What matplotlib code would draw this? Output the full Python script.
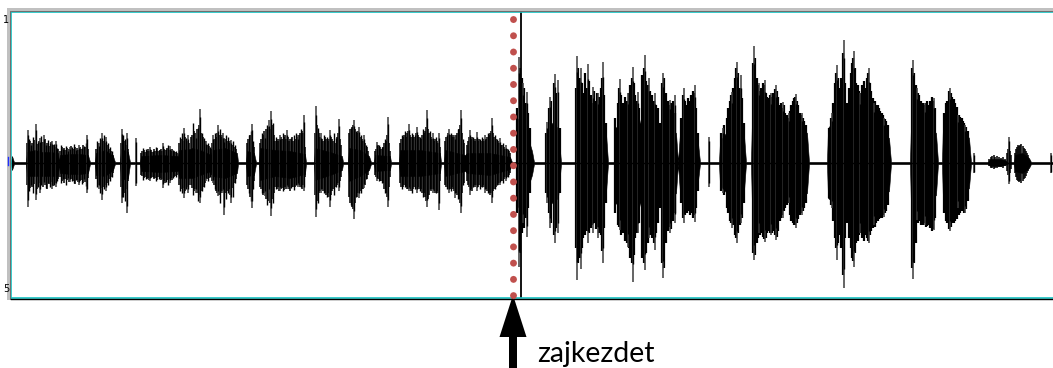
import numpy as np
import matplotlib
matplotlib.use("Agg")
import matplotlib.pyplot as plt
from matplotlib.patches import Rectangle

# waveform body envelope: column position, height above / depth below the baseline (px)
env_x = [11, 12, 14, 26, 27, 35, 42, 50, 58, 59, 60, 70, 80, 88, 90, 95, 96, 105, 113, 115,
         120, 121, 128, 130, 140, 141, 160, 178, 179, 190, 192, 200, 211, 212, 225, 237, 238, 246,
         247, 254, 256, 259, 260, 275, 290, 305, 306, 314, 315, 330, 342, 343, 348, 349, 360, 369,
         371, 374, 375, 390, 391, 399, 400, 420, 440, 441, 444, 445, 465, 467, 490, 510, 512, 516,
         517, 524, 532, 534, 545, 546, 552, 558, 561, 575, 576, 590, 606, 608, 614, 615, 630, 640,
         641, 660, 661, 676, 678, 680, 690, 698, 700, 719, 720, 735, 744, 746, 751, 752, 770, 795,
         807, 809, 827, 828, 840, 847, 848, 865, 880, 889, 891, 910, 911, 925, 936, 938, 942, 943,
         955, 969, 971, 988, 990, 1000, 1005, 1007, 1014, 1015, 1022, 1029, 1031, 1053]
env_top = [1, 7, 1, 1, 11, 13, 11, 11, 10, 1, 8, 9, 9, 8, 1, 1, 10, 13, 7, 1,
           1, 14, 11, 1, 1, 7, 8, 7, 13, 14, 15, 13, 8, 13, 15, 10, 1, 1,
           12, 10, 1, 1, 15, 13, 12, 9, 1, 1, 15, 11, 7, 1, 1, 15, 13, 7,
           1, 1, 8, 7, 1, 1, 13, 13, 10, 1, 1, 13, 8, 10, 10, 6, 1, 1,
           45, 38, 12, 1, 1, 25, 40, 35, 1, 1, 50, 50, 30, 1, 1, 35, 45, 40,
           45, 30, 42, 30, 1, 30, 42, 20, 1, 1, 22, 42, 28, 1, 1, 45, 42, 42,
           30, 1, 1, 35, 50, 40, 45, 50, 32, 25, 1, 1, 40, 40, 30, 1, 1, 40,
           45, 25, 1, 1, 4, 4, 3, 1, 1, 8, 10, 5, 1, 1]
env_bot = [1, 7, 1, 1, 13, 13, 13, 13, 13, 1, 10, 11, 11, 10, 1, 1, 12, 13, 7, 1,
           1, 17, 15, 1, 1, 8, 9, 8, 15, 15, 15, 12, 8, 13, 15, 10, 1, 1,
           13, 12, 1, 1, 17, 13, 15, 11, 1, 1, 17, 12, 7, 1, 1, 18, 13, 7,
           1, 1, 8, 7, 1, 1, 13, 13, 10, 1, 1, 13, 8, 10, 12, 6, 1, 1,
           45, 36, 12, 1, 1, 25, 40, 35, 1, 1, 50, 45, 30, 1, 1, 40, 48, 40,
           45, 30, 45, 30, 1, 30, 35, 18, 1, 1, 22, 40, 28, 1, 1, 45, 42, 38,
           30, 1, 1, 35, 45, 40, 45, 45, 36, 28, 1, 1, 45, 42, 32, 1, 1, 40,
           40, 25, 1, 1, 3, 3, 2, 1, 1, 8, 10, 5, 1, 1]

# single tall strokes sticking out of the bursts
spike_x = [28, 36, 44, 52, 40, 56, 87, 79, 70, 102, 106, 99, 122, 127, 136, 163, 150, 170,
           184, 188, 200, 196, 206, 213, 218, 223, 224, 231, 252, 265, 269, 271, 280, 287, 298,
           304, 316, 321, 330, 339, 354, 359, 364, 377, 388, 409, 417, 427, 433, 439, 449, 455,
           461, 470, 477, 485, 492, 500, 506, 519, 523, 527, 547, 550, 555, 558, 577, 581, 588,
           593, 598, 603, 620, 628, 633, 638, 645, 649, 655, 663, 670, 675, 684, 695, 709, 723,
           732, 737, 741, 754, 759, 765, 771, 776, 783, 789, 796, 802, 832, 837, 844, 854, 860,
           869, 874, 884, 913, 917, 925, 934, 950, 958, 965, 974, 1009, 1051]
spike_top = [33, 39, 28, 22, 25, 22, 28, 18, 16, 30, 26, 20, 34, 30, 25, 20, 16, 17,
             35, 28, 54, 30, 22, 28, 38, 30, 25, 23, 39, 30, 43, 52, 28, 33, 28,
             48, 57, 30, 33, 44, 43, 36, 28, 21, 46, 39, 36, 53, 30, 30, 34, 28,
             53, 33, 31, 28, 45, 25, 18, 106, 80, 71, 41, 66, 89, 83, 107, 95, 99,
             76, 70, 101, 84, 70, 96, 71, 108, 85, 70, 90, 63, 68, 75, 78, 26, 35,
             71, 101, 88, 117, 80, 83, 70, 78, 61, 50, 69, 50, 50, 98, 123, 112, 70,
             95, 60, 45, 103, 75, 60, 65, 75, 48, 38, 10, 26, 10]
spike_bot = [44, 37, 22, 26, 30, 24, 30, 22, 19, 37, 28, 26, 40, 50, 23, 25, 18, 20,
             35, 30, 40, 30, 18, 20, 33, 30, 52, 40, 45, 33, 30, 53, 28, 26, 24,
             28, 54, 30, 44, 28, 56, 35, 25, 18, 44, 28, 30, 44, 30, 47, 30, 35,
             50, 32, 28, 30, 40, 22, 18, 104, 60, 74, 40, 65, 80, 70, 117, 106, 80,
             70, 75, 100, 67, 84, 119, 70, 107, 75, 87, 115, 70, 60, 60, 59, 24, 30,
             65, 80, 60, 97, 70, 79, 72, 77, 55, 40, 65, 52, 45, 97, 125, 104, 70,
             80, 62, 54, 116, 57, 62, 67, 68, 45, 50, 10, 21, 10]

# medium strokes that make up the ragged edge of the left-hand bursts
stroke_x = [29, 31, 33, 38, 41, 46, 48, 50, 54, 57,
            61, 63, 66, 68, 72, 74, 76, 82, 84, 86,
            97, 100, 104, 108, 110, 112, 123, 125,
            143, 146, 153, 156, 159, 166, 168, 173, 176,
            180, 182, 186, 193, 198, 202, 204, 208, 210,
            215, 220, 226, 228, 233, 235, 249, 251, 253,
            262, 267, 273, 276, 283, 291, 294, 296, 301,
            318, 324, 327, 334, 336, 351, 356, 361, 366, 379, 382, 385,
            402, 405, 412, 415, 420, 423, 430, 436, 447, 451, 458, 463,
            473, 480, 482, 488, 495, 497, 503, 508]
stroke_top = [24, 18, 26, 21, 27, 18, 23, 20, 19, 15,
              18, 14, 17, 12, 16, 19, 13, 15, 17, 20,
              22, 25, 28, 20, 16, 12, 28, 24,
              15, 14, 12, 16, 13, 14, 18, 13, 12,
              26, 30, 25, 40, 35, 30, 25, 20, 16,
              30, 34, 28, 26, 22, 18, 28, 32, 22,
              30, 38, 40, 26, 30, 25, 28, 30, 34,
              35, 28, 26, 30, 25, 35, 32, 28, 18, 18, 16, 24,
              28, 32, 30, 28, 26, 34, 32, 26, 28, 30, 34, 24,
              26, 24, 26, 30, 28, 24, 20, 14]
stroke_bot = [28, 22, 30, 24, 22, 25, 20, 24, 22, 18,
              20, 16, 22, 15, 18, 20, 17, 21, 16, 23,
              24, 30, 26, 22, 18, 14, 34, 38,
              17, 16, 14, 18, 16, 19, 22, 15, 14,
              28, 30, 26, 32, 38, 28, 24, 18, 14,
              26, 40, 36, 30, 34, 20, 30, 38, 26,
              30, 42, 40, 26, 28, 25, 27, 22, 24,
              40, 30, 34, 32, 24, 42, 34, 30, 16, 18, 20, 30,
              26, 24, 30, 26, 28, 34, 26, 30, 26, 28, 36, 22,
              24, 26, 24, 30, 26, 22, 20, 14]

# in-between columns of the quieter bursts (before the onset and at the very end)
fine_x = [27, 30, 32, 34, 37, 39, 43, 45, 47, 49, 51, 53, 55, 58,
          60, 62, 64, 65, 67, 69, 71, 73, 75, 77, 78, 80, 81, 83, 85, 88,
          96, 98, 101, 103, 105, 107, 109, 111, 113, 121, 124, 126, 128,
          141, 142, 144, 145, 147, 148, 149, 151, 152, 154, 155, 157, 158, 160, 161, 162,
          164, 165, 167, 169, 171, 172, 174, 175, 177,
          179, 181, 183, 185, 187, 189,
          191, 192, 194, 195, 197, 199, 201, 203, 205, 207, 209, 211,
          212, 214, 216, 217, 219, 221, 222, 225, 227, 229, 230, 232, 234, 236,
          247, 248, 250, 254,
          260, 261, 263, 264, 266, 268, 270, 272, 274, 275, 277, 278, 279, 281, 282, 284,
          285, 286, 288, 289, 290, 292, 293, 295, 297, 299, 300, 302, 303, 305,
          315, 317, 319, 320, 322, 323, 325, 326, 328, 329, 331, 332, 333, 335, 337, 338, 340, 341,
          349, 350, 352, 353, 355, 357, 358, 360, 362, 363, 365, 367, 368,
          375, 376, 378, 380, 381, 383, 384, 386, 387, 389, 390,
          400, 401, 403, 404, 406, 407, 408, 410, 411, 413, 414, 416, 418, 419, 421, 422, 424,
          425, 426, 428, 429, 431, 432, 434, 435, 437, 438, 440,
          445, 446, 448, 450, 452, 453, 454, 456, 457, 459, 460, 462, 464,
          467, 468, 469, 471, 472, 474, 475, 476, 478, 479, 481, 483, 484, 486, 487, 489, 490,
          491, 493, 494, 496, 498, 499, 501, 502, 504, 505, 507, 509, 510,
          989, 991, 992, 994, 995, 997, 999, 1001, 1003, 1005, 1007, 1008, 1010, 1011,
          1015, 1016, 1017, 1018, 1019, 1020, 1021, 1023, 1024, 1025, 1026, 1027, 1028]
fine_top = [20, 22, 20, 23, 19, 22, 21, 24, 20, 17, 21, 18, 16, 14,
            12, 16, 15, 13, 15, 14, 17, 14, 16, 15, 13, 16, 14, 18, 16, 14,
            14, 20, 23, 22, 20, 18, 14, 12, 8, 20, 22, 18, 14,
            10, 12, 13, 11, 12, 14, 12, 13, 11, 14, 12, 15, 12, 13, 14, 12,
            14, 13, 15, 13, 12, 14, 12, 11, 10,
            20, 24, 22, 26, 22, 20,
            26, 28, 32, 30, 34, 38, 30, 26, 22, 18, 17, 14,
            20, 24, 26, 30, 28, 26, 28, 24, 22, 20, 22, 18, 16, 14,
            20, 24, 28, 16,
            20, 24, 28, 32, 34, 36, 34, 38, 28, 22, 24, 22, 24, 26, 24, 26,
            28, 24, 26, 22, 24, 26, 22, 24, 26, 28, 30, 32, 30, 16,
            30, 38, 30, 26, 24, 22, 26, 24, 22, 24, 26, 24, 22, 20, 26, 30, 24, 18,
            30, 34, 36, 38, 34, 30, 32, 26, 24, 22, 20, 16, 12,
            12, 14, 18, 16, 14, 16, 20, 22, 28, 20, 12,
            20, 24, 26, 28, 26, 30, 32, 28, 26, 28, 26, 30, 28, 26, 24, 28, 30,
            32, 36, 34, 30, 26, 24, 22, 24, 22, 20, 16,
            22, 26, 30, 28, 26, 28, 26, 28, 30, 34, 38, 30, 20,
            18, 22, 26, 24, 26, 24, 22, 24, 22, 24, 22, 24, 22, 24, 26, 28, 30,
            32, 30, 26, 24, 22, 20, 18, 18, 16, 14, 14, 12, 10,
            4, 6, 7, 8, 6, 7, 6, 5, 6, 4, 10, 14, 12, 8,
            10, 14, 16, 18, 17, 18, 19, 17, 15, 14, 12, 10, 8]
fine_bot = [22, 25, 24, 21, 26, 20, 24, 22, 26, 21, 19, 23, 20, 16,
            14, 18, 20, 16, 17, 19, 16, 18, 21, 17, 19, 18, 17, 20, 19, 15,
            16, 22, 25, 24, 22, 20, 16, 14, 10, 24, 30, 26, 18,
            12, 13, 15, 14, 16, 15, 17, 15, 14, 16, 15, 17, 14, 15, 17, 16,
            18, 20, 17, 16, 15, 17, 14, 13, 12,
            22, 26, 25, 28, 24, 22,
            22, 25, 28, 26, 30, 32, 28, 24, 20, 16, 15, 12,
            18, 22, 28, 30, 32, 30, 28, 30, 28, 26, 32, 25, 20, 16,
            22, 26, 34, 18,
            24, 26, 32, 30, 36, 38, 40, 36, 30, 24, 26, 24, 28, 26, 25, 27,
            24, 26, 24, 26, 28, 24, 24, 24, 22, 22, 24, 26, 22, 14,
            32, 38, 30, 28, 26, 28, 30, 32, 30, 34, 32, 28, 26, 24, 22, 20, 18, 14,
            34, 40, 44, 46, 40, 34, 30, 28, 26, 26, 22, 16, 12,
            12, 14, 16, 18, 18, 20, 26, 30, 34, 24, 14,
            20, 24, 24, 22, 24, 26, 26, 26, 28, 26, 24, 26, 24, 26, 26, 30, 30,
            34, 38, 36, 32, 28, 26, 28, 30, 28, 30, 18,
            22, 24, 26, 26, 24, 26, 28, 30, 32, 36, 40, 30, 20,
            18, 22, 24, 26, 28, 22, 24, 22, 24, 22, 24, 22, 24, 26, 28, 30, 32,
            30, 28, 26, 24, 22, 20, 18, 18, 16, 14, 14, 12, 10,
            3, 5, 5, 6, 5, 5, 4, 4, 5, 3, 8, 12, 10, 6,
            10, 14, 17, 18, 19, 18, 20, 18, 16, 15, 13, 10, 8]

# dense columns inside the loud bursts after the onset
dense_x = [517, 520, 522, 524, 526, 528, 530,
           546, 549, 551, 554, 556, 560,
           576, 578, 580, 582, 583, 585, 587, 589, 591, 592, 594, 596, 597, 599, 601, 602, 604, 606,
           615, 618, 619, 621, 623, 625, 627, 629, 630, 632, 634, 635, 637, 639,
           642, 644, 646, 648, 650, 652, 654, 656, 658, 660,
           662, 664, 666, 668, 669, 671, 673, 675,
           681, 683, 685, 687, 688, 690, 691, 693, 694, 696, 698,
           721, 724, 727, 728, 730, 731, 733, 735, 736, 738, 740, 742, 744,
           753, 755, 757, 758, 760, 761, 763, 764, 766, 767, 769, 770, 772, 773, 775, 777, 778,
           780, 781, 782, 784, 785, 787, 788, 790, 791, 793, 794, 795, 797, 798, 800, 801, 803,
           804, 806,
           829, 831, 833, 835, 836, 838, 839, 841, 843, 845, 847,
           849, 851, 852, 853, 855, 856, 858, 859, 861, 862, 864, 865, 867, 868, 870, 871, 873,
           875, 876, 878, 879, 880, 882, 883, 885, 886, 888,
           912, 914, 916, 918, 919, 921, 923, 924, 926, 927, 929, 930, 932, 933, 935,
           944, 946, 947, 949, 951, 952, 954, 955, 957, 959, 960, 962, 963, 964, 966, 968]
dense_top = [55, 95, 85, 75, 60, 50, 35,
             30, 55, 62, 80, 70, 35,
             75, 95, 85, 80, 70, 90, 75, 82, 68, 60, 72, 62, 70, 66, 75, 85, 68, 40,
             45, 60, 75, 68, 60, 66, 62, 70, 78, 85, 80, 68, 62, 55,
             88, 95, 82, 78, 72, 68, 62, 58, 55, 40,
             80, 85, 70, 62, 58, 60, 62, 50,
             45, 68, 62, 58, 65, 62, 68, 72, 70, 55, 30,
             30, 38, 45, 55, 62, 68, 75, 85, 95, 90, 75, 65, 40,
             100, 105, 85, 78, 72, 75, 80, 78, 70, 66, 65, 68, 66, 70, 74, 72, 66,
             58, 60, 55, 58, 50, 48, 45, 52, 58, 62, 65, 66, 62, 58, 50, 48, 45,
             42, 38,
             35, 45, 60, 80, 90, 85, 75, 85, 110, 80, 60,
             75, 90, 100, 105, 95, 80, 78, 72, 70, 78, 82, 75, 85, 90, 80, 72, 65,
             62, 58, 58, 55, 52, 50, 48, 44, 42, 38,
             95, 90, 78, 70, 68, 62, 60, 58, 60, 62, 58, 62, 66, 62, 55,
             50, 60, 62, 72, 70, 66, 64, 60, 56, 48, 46, 45, 42, 40, 36, 32]
dense_bot = [50, 90, 70, 65, 55, 45, 30,
             30, 50, 60, 72, 65, 30,
             85, 100, 95, 85, 75, 72, 68, 70, 65, 62, 60, 66, 64, 70, 72, 88, 65, 40,
             50, 62, 64, 72, 70, 78, 80, 85, 95, 100, 92, 75, 70, 60,
             95, 100, 90, 80, 72, 75, 80, 70, 60, 45,
             100, 105, 80, 68, 64, 66, 58, 50,
             40, 55, 52, 50, 48, 52, 50, 55, 52, 45, 28,
             28, 32, 45, 50, 58, 60, 62, 72, 75, 70, 62, 55, 40,
             90, 92, 80, 75, 72, 70, 74, 76, 75, 70, 68, 70, 70, 68, 72, 74, 68,
             58, 55, 52, 48, 45, 42, 40, 52, 58, 60, 62, 62, 60, 56, 52, 50, 48,
             45, 40,
             35, 42, 58, 75, 85, 80, 72, 85, 112, 75, 60,
             75, 85, 95, 98, 90, 80, 78, 72, 70, 75, 78, 72, 75, 78, 72, 68, 65,
             64, 60, 58, 56, 55, 55, 52, 50, 48, 42,
             105, 100, 80, 60, 58, 62, 62, 60, 64, 63, 62, 65, 68, 66, 55,
             50, 58, 60, 66, 64, 60, 60, 58, 56, 52, 50, 48, 48, 50, 46, 38]

onset_x = 513      # dotted marker and arrow
cursor_x = 521     # thin black cursor line

W, H = 1053, 368
fig = plt.figure(figsize=(W / 100, H / 100), dpi=100)

teal = "#14c2c2"

# waveform panel (pixel-based layout: x 11..1053, y 12..298, baseline at y 163)
ax = fig.add_axes([11 / W, 1 - 298 / H, 1 - 11 / W, (298 - 12) / H])
ax.set_xlim(11, W)
ax.set_ylim(-135, 151)
ex = np.array(env_x)
ax.fill_between(ex, -np.array(env_bot), np.array(env_top), color="black", lw=0.4)
ax.vlines(fine_x, -np.array(fine_bot), np.array(fine_top), color="black", lw=1.1)
ax.vlines(stroke_x, -np.array(stroke_bot), np.array(stroke_top), color="black", lw=1.0)
ax.vlines(dense_x, -np.array(dense_bot), np.array(dense_top), color="black", lw=1.6)
ax.vlines(spike_x, -np.array(spike_bot), np.array(spike_top), color="#3a3a3a", lw=1.1)
ax.vlines(spike_x, -np.array(spike_bot) * 0.85, np.array(spike_top) * 0.85,
          color="black", lw=1.0)
ax.axhline(0, color="black", lw=1.0)
ax.axvline(cursor_x, color="black", lw=1.3)
ax.set_xticks([])
ax.set_yticks([])
for side in ["top", "left", "bottom"]:
    ax.spines[side].set_color(teal)
    ax.spines[side].set_linewidth(1.2)
ax.spines["right"].set_visible(False)

# overlay in figure pixels for frame, marker, arrow and label
ov = fig.add_axes([0, 0, 1, 1], facecolor="none")
ov.set_xlim(0, W)
ov.set_ylim(H, 0)
ov.axis("off")
ov.add_patch(Rectangle((7, 8), W, 3.5, color="#c0c0c0", lw=0))
ov.add_patch(Rectangle((7, 8), 3.5, 292, color="#c0c0c0", lw=0))
ov.plot([10.5, W], [11.4, 11.4], color="#606060", lw=0.6)
ov.plot([10.4, 10.4], [11.4, 299], color="#606060", lw=0.6)
ov.plot([11, W], [298.6, 298.6], color="black", lw=1.0)
ov.plot([7.8, 7.8], [157, 165], color="#2030ff", lw=1.0)
ov.text(9, 23, "1", fontsize=7, ha="right", va="baseline", color="black")
ov.text(9, 292, "5", fontsize=7, ha="right", va="baseline", color="black")

ov.plot([onset_x, onset_x], [19, 296.5], color="#c0504d", lw=5.0,
        linestyle=(0, (0.01, 16.3 / 7.0)), dash_capstyle="round")
ov.arrow(onset_x, 372, 0, -77, width=8, head_width=27, head_length=42,
         length_includes_head=True, color="black", lw=0)
ov.text(537, 362, "zajkezdet", fontsize=20.5, family="Lato", va="baseline", color="black")

fig.savefig("out.png", dpi=100)
